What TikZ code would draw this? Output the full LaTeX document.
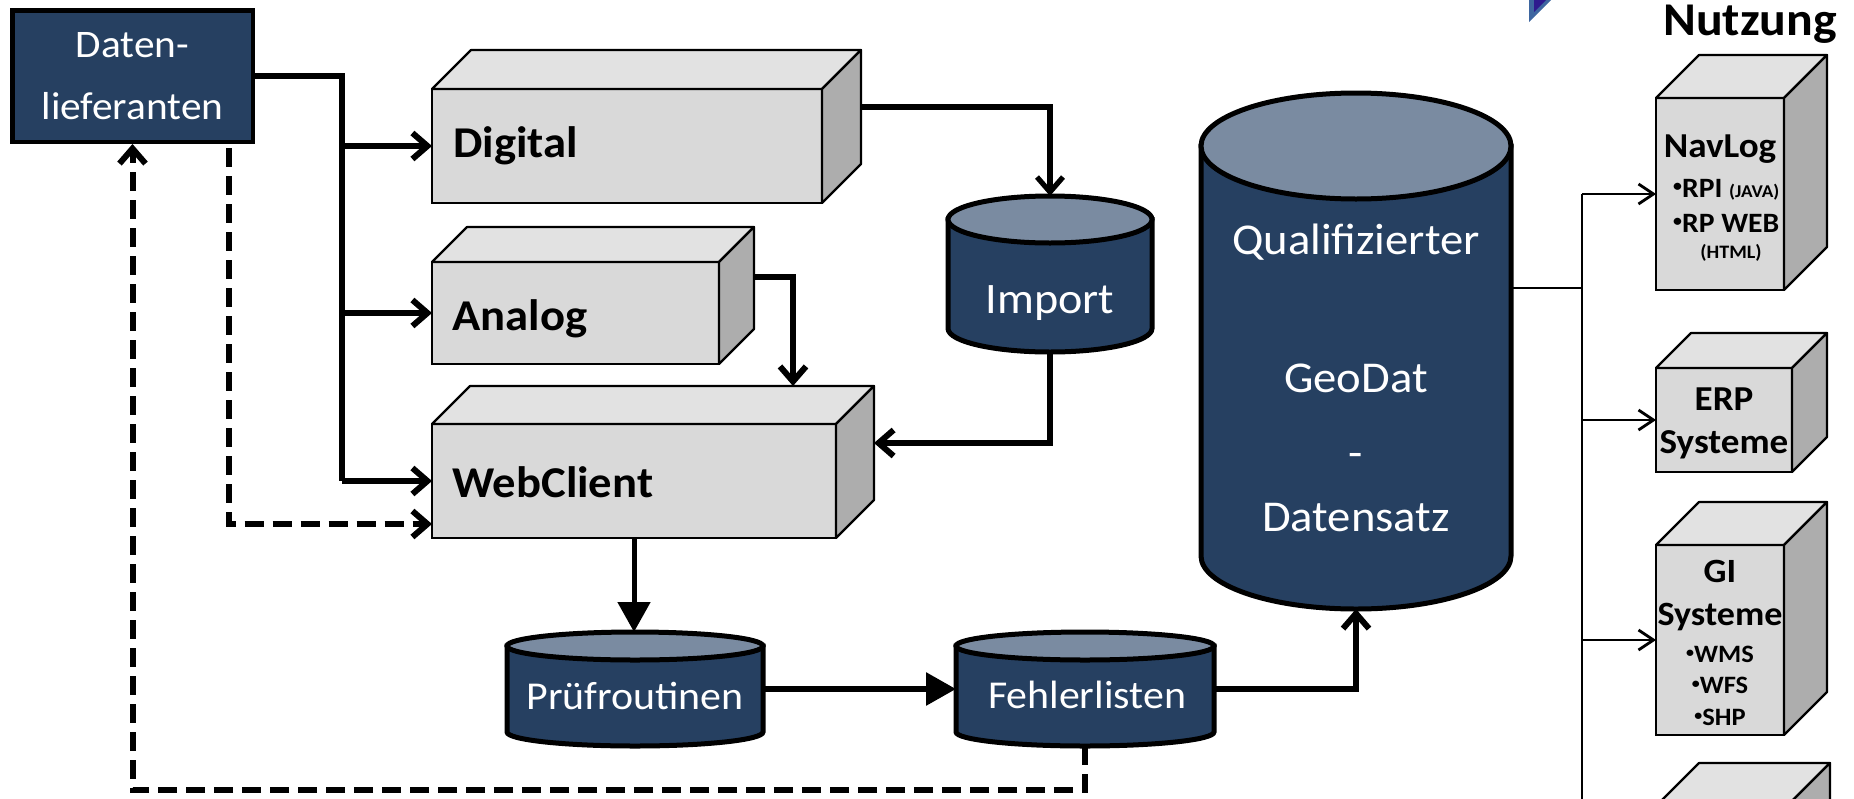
\documentclass[tikz,border=0pt]{standalone}
\usepackage{fontspec}
\setmainfont{Carlito}[FakeStretch=1.06]
\usetikzlibrary{arrows.meta,calc}
\definecolor{cnavy}{HTML}{264061}
\definecolor{cnavytop}{HTML}{7A8BA1}
\definecolor{cbfront}{HTML}{D9D9D9}
\definecolor{cbtop}{HTML}{E2E2E2}
\definecolor{cbside}{HTML}{ADADAD}
\definecolor{tristeel}{HTML}{3E66A0}
\definecolor{triindigo}{HTML}{2E1A8E}
\newcommand\setfs[1]{\fontsize{#1}{#1}\selectfont}
\newcommand\smbul{\raisebox{0.2em}{\scalebox{0.6}{•}}}
\tikzset{
  cubefront/.style={draw=black,line width=2.2pt,fill=cbfront,inner sep=0pt,outer sep=0pt,anchor=north west},
  topf/.style={draw=black,line width=2.2pt,fill=cbtop,line join=round},
  sidef/.style={draw=black,line width=2.2pt,fill=cbside,line join=round},
  cylbody/.style={draw=black,line width=5pt,fill=cnavy},
  cyltop/.style={draw=black,line width=5pt,fill=cnavytop},
  cylnode/.style={inner sep=0pt,outer sep=0pt},
  wtxt/.style={text=white,inner sep=0pt,anchor=base},
  btxt/.style={text=black,inner sep=0pt,anchor=base},
  conn/.style={line width=6pt,-{Straight Barb[length=15pt,width=26pt]}},
  dconn/.style={conn,dash pattern=on 19pt off 9pt},
  tconn/.style={line width=6pt,-{Triangle[length=30pt,width=32pt]}},
  thinl/.style={line width=2.8pt},
  thinarr/.style={thinl,-{Straight Barb[length=15pt,width=20pt]}},
}
\newcommand\cubefaces[2]{%
  \filldraw[topf] (#1.north west) -- ++(#2,-#2) -- ($(#1.north east)+(#2,-#2)$) -- (#1.north east) -- cycle;
  \filldraw[sidef] (#1.north east) -- ($(#1.north east)+(#2,-#2)$) -- ($(#1.south east)+(#2,-#2)$) -- (#1.south east) -- cycle;
}
\newcommand\dbcyl[6]{%
  \pgfmathsetmacro\cylcx{(#2+#3)/2}%
  \pgfmathsetmacro\cylrx{(#3-#2)/2}%
  \pgfmathsetmacro\cylty{#4+#6}%
  \pgfmathsetmacro\cylby{#5-#6}%
  \pgfmathsetmacro\cylcy{(#4+#5)/2}%
  \filldraw[cylbody] (#2,\cylty) -- (#2,\cylby) arc[start angle=180,end angle=360,x radius=\cylrx pt,y radius=#6 pt] -- (#3,\cylty) -- cycle;
  \filldraw[cyltop] (\cylcx,\cylty) ellipse[x radius=\cylrx pt,y radius=#6 pt];
  \node[cylnode,minimum width={(#3-#2)*1pt},minimum height={(#5-#4)*1pt}] (#1) at (\cylcx,\cylcy) {};
}
\begin{document}
\begin{tikzpicture}[x=1pt,y=-1pt]
\useasboundingbox (0,0) rectangle (1854,798);
\clip (0,0) rectangle (1854,798);

% corner decoration
\fill[tristeel] (1529,0) -- (1551,0) -- (1529,22) -- cycle;
\fill[triindigo] (1534,0) -- (1546,0) -- (1534,12) -- cycle;
\node[btxt,anchor=base west,font=\bfseries\setfs{47}] (nutz) at (1663,35) {Nutzung};

% Datenlieferanten
\node[draw=black,line width=4.5pt,fill=cnavy,minimum width=240.5pt,minimum height=131.5pt,inner sep=0pt,text=white,align=center,font=\fontsize{39}{62}\selectfont] (dl) at (132.5,76) {Daten-\\lieferanten};

% left boxes
\node[cubefront,minimum width=390pt,minimum height=114pt] (dig) at (432,89) {};
\cubefaces{dig}{39}
\node[btxt,anchor=base west,font=\bfseries\setfs{44}] (digt) at (453,157) {Digital};

\node[cubefront,minimum width=287pt,minimum height=102pt] (ana) at (432,262) {};
\cubefaces{ana}{35}
\node[btxt,anchor=base west,font=\bfseries\setfs{44}] (anat) at (452,330) {Analog};

\node[cubefront,minimum width=404pt,minimum height=114pt] (web) at (432,424) {};
\cubefaces{web}{38}
\node[btxt,anchor=base west,font=\bfseries\setfs{44}] (webt) at (452,497) {WebClient};

% right boxes
\node[cubefront,minimum width=128pt,minimum height=192pt] (nav) at (1656,98) {};
\cubefaces{nav}{43}
\node[btxt,font=\bfseries\setfs{35}] (navt) at (1720,157) {NavLog};
\node[btxt,anchor=base west,font=\bfseries\setfs{28}] (navb1) at (1673,197) {\smbul RPI {\setfs{18}(JAVA)}};
\node[btxt,anchor=base west,font=\bfseries\setfs{28}] (navb2) at (1673,232) {\smbul RP WEB};
\node[btxt,font=\bfseries\setfs{19}] (navb3) at (1731,258) {(HTML)};

\node[cubefront,minimum width=136pt,minimum height=104pt] (erp) at (1656,368) {};
\cubefaces{erp}{35}
\node[btxt,font=\bfseries\setfs{35}] (erpt1) at (1724,410) {ERP};
\node[btxt,font=\bfseries\setfs{35}] (erpt2) at (1724,453) {Systeme};

\node[cubefront,minimum width=128pt,minimum height=190pt] (gi) at (1656,545) {};
\cubefaces{gi}{43}
\node[btxt,font=\bfseries\setfs{34}] (git1) at (1720,582) {GI};
\node[btxt,font=\bfseries\setfs{34}] (git2) at (1720,625) {Systeme};
\node[btxt,font=\bfseries\setfs{25}] (git3) at (1720,662) {\smbul WMS};
\node[btxt,font=\bfseries\setfs{25}] (git4) at (1720,693) {\smbul WFS};
\node[btxt,font=\bfseries\setfs{25}] (git5) at (1720,725) {\smbul SHP};

\node[cubefront,minimum width=131pt,minimum height=150pt] (c4) at (1656,806) {};
\cubefaces{c4}{43}

% cylinders
\dbcyl{imp}{948}{1152}{196}{352}{23.5}
\node[wtxt,font=\setfs{43.5}] (impt) at (1050,313) {Import};
\dbcyl{pr}{507}{763}{632}{746}{14}
\node[wtxt,font=\setfs{39.5}] (prt) at (635,709) {Prüfroutinen};
\dbcyl{fe}{956}{1214}{632}{746}{14}
\node[wtxt,font=\setfs{39.5}] (fet) at (1087,708) {Fehlerlisten};
\dbcyl{big}{1201}{1511}{93}{609}{53}
\node[wtxt,font=\setfs{44}] (bigt1) at (1356,254) {Qualifizierter};
\node[wtxt,font=\setfs{44}] (bigt2) at (1356,392) {GeoDat};
\node[wtxt,font=\setfs{44}] (bigt3) at (1356,467) {-};
\node[wtxt,font=\setfs{44}] (bigt4) at (1356,531) {Datensatz};

% connectors from Datenlieferanten
\coordinate (br) at (342,76);
\draw[line width=6pt] (dl.east) -- (br) -- (br |- web.west);
\draw[conn] (br |- dig.west) -- (dig.west);
\draw[conn] (br |- ana.west) -- (ana.west);
\draw[conn] (br |- web.west) -- (web.west);

\coordinate (dturn) at (228.5,524);
\draw[dconn] ($(dl.south)+(96,4)$) -- (dturn) -- (dturn -| web.west);
\draw[dconn] (fe.south) -- (fe.south |- 0,790) -| (dl.south);

% flow
\draw[conn,line width=5.2pt] ($(dig.north east)+(39,18)$) -| (imp.north);
\draw[conn] ($(ana.north east)+(35,15)$) -| ($(web.north west)+(361,-38)$);
\draw[conn] (imp.south) |- ($(web.north east)+(38,19)$);
\draw[tconn,line width=5pt] (web.south) -- (web.south |- pr.north);
\draw[tconn] (pr.east) -- (fe.west);
\draw[conn] (fe.east) -| (big.south);

% distribution bus
\coordinate (bigout) at ($(big.north east)+(0,195)$);
\coordinate (bus) at (nav.west -| 1582,0);
\draw[thinl] (bigout) -- (bigout -| bus);
\draw[thinl] (bus) -- (1582,800);
\draw[thinarr] (bus) -- (nav.west);
\draw[thinarr] (bus |- erp.west) -- (erp.west);
\draw[thinarr] (bus |- gi.west) -- (gi.west);
\end{tikzpicture}
\end{document}
